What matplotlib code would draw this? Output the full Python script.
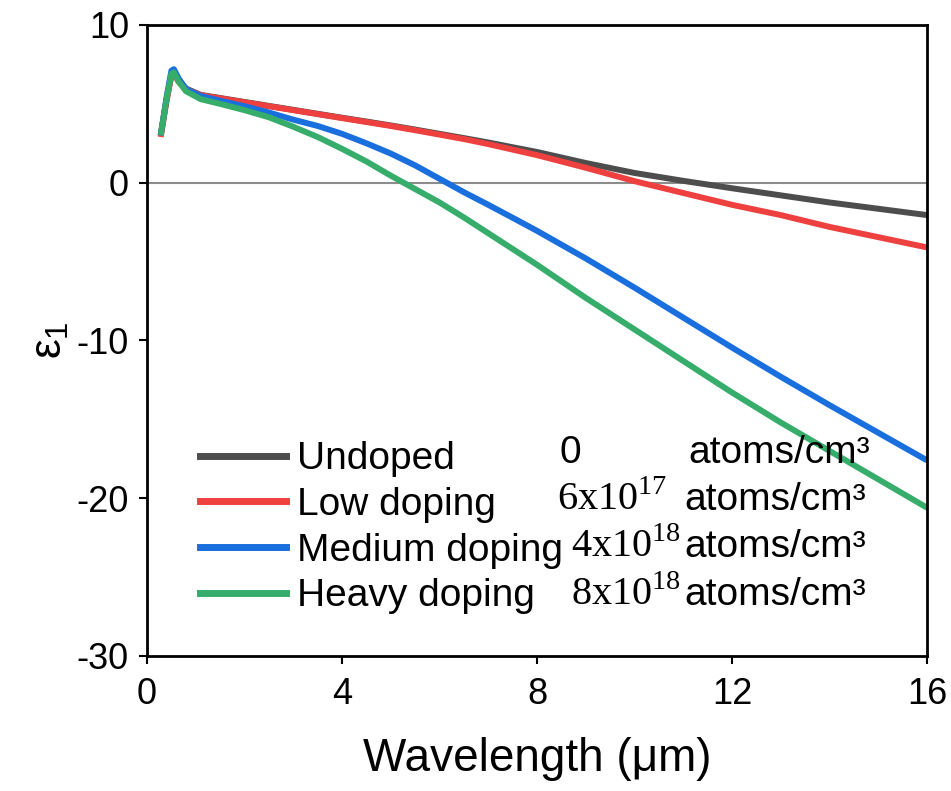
import matplotlib
matplotlib.use("Agg")
import matplotlib.pyplot as plt
from matplotlib.lines import Line2D

plt.rcParams['font.family'] = ['Liberation Sans', 'DejaVu Sans']
plt.rcParams['mathtext.fontset'] = 'custom'
plt.rcParams['mathtext.rm'] = 'Liberation Sans'
plt.rcParams['mathtext.it'] = 'Liberation Sans'
plt.rcParams['axes.unicode_minus'] = False

wavelength = [0.28, 0.4, 0.5, 0.55, 0.65, 0.8, 1.1, 1.5, 2, 2.5, 3, 3.5, 4, 4.5, 5, 5.5, 6, 6.5, 7, 7.5, 8,
              9, 10, 11, 12, 13, 14, 15, 16]
undoped = [3.0, 5.25, 6.85, 6.95, 6.45, 5.97, 5.57, 5.37, 5.12, 4.87, 4.62, 4.37, 4.12, 3.88, 3.63, 3.37, 3.1,
           2.83, 2.55, 2.25, 1.95, 1.25, 0.62, 0.12, -0.35, -0.8, -1.25, -1.65, -2.05]
low = [2.9, 5.2, 6.8, 6.9, 6.4, 5.95, 5.55, 5.35, 5.1, 4.85, 4.6, 4.35, 4.1, 3.85, 3.6, 3.33, 3.05,
       2.77, 2.45, 2.1, 1.75, 0.95, 0.1, -0.65, -1.4, -2.05, -2.8, -3.45, -4.1]
medium = [3.0, 5.4, 7.1, 7.2, 6.6, 5.95, 5.5, 5.2, 4.85, 4.45, 4.0, 3.6, 3.1, 2.5, 1.85, 1.1, 0.25,
          -0.6, -1.4, -2.22, -3.05, -4.8, -6.65, -8.55, -10.45, -12.3, -14.1, -15.85, -17.6]
heavy = [3.0, 5.3, 6.9, 7.0, 6.4, 5.8, 5.3, 5.0, 4.6, 4.15, 3.55, 2.9, 2.15, 1.35, 0.45, -0.4, -1.25,
         -2.2, -3.2, -4.2, -5.2, -7.3, -9.3, -11.3, -13.3, -15.2, -17.0, -18.8, -20.6]

labels = ['Undoped', 'Low doping', 'Medium doping', 'Heavy doping']
conc_num = ['0', r'6x10$^{\mathregular{17}}$', r'4x10$^{\mathregular{18}}$', r'8x10$^{\mathregular{18}}$']
colors = ['#4d4d4d', '#ef4040', '#1a6fdf', '#37ad6b']
series = [undoped, low, medium, heavy]

xticks = [0, 4, 8, 12, 16]
yticks = [10, 0, -10, -20, -30]

fig = plt.figure(figsize=(9.51, 7.91), dpi=100)
ax = fig.add_axes([0.1546, 0.1707, 0.8202, 0.7977])

ax.axhline(0, color='#8c8c8c', lw=1.5, zorder=1)
for y, c, lab in zip(series, colors, labels):
    ax.plot(wavelength, y, color=c, lw=4.3, label=lab, solid_capstyle='butt',
            solid_joinstyle='round', zorder=2)

ax.set_xlim(0, 16)
ax.set_ylim(-30, 10)
ax.set_xticks(xticks)
ax.set_yticks(yticks)
ax.tick_params(axis='both', direction='out', length=6, width=1.5, labelsize=26)
ax.tick_params(axis='x', pad=9)
ax.tick_params(axis='y', pad=7)
for s in ax.spines.values():
    s.set_linewidth(2)

ax.set_xlabel('Wavelength (\u03bcm)', fontsize=33, labelpad=18)
ax.set_ylabel(r'$\varepsilon_1$', fontsize=32, labelpad=4)

handles = [Line2D([], [], color=c, lw=5) for c in colors]
leg = ax.legend(handles, labels, loc='lower left', bbox_to_anchor=(0.068, 0.066),
                frameon=False, fontsize=28, handlelength=2.2, handletextpad=0.28,
                labelspacing=0.25, borderpad=0, borderaxespad=0)

rows_y = [0.322, 0.247, 0.172, 0.097]
num_x = [0.529, 0.525, 0.544, 0.544]
atoms_x = [0.694, 0.689, 0.689, 0.689]
for i, (n, yy) in enumerate(zip(conc_num, rows_y)):
    fam = 'Liberation Sans' if i == 0 else 'Liberation Serif'
    fs = 28 if i == 0 else 29
    ax.text(num_x[i], yy, n, transform=ax.transAxes, fontsize=fs, va='center', ha='left',
            family=fam)
    ax.text(atoms_x[i], yy, 'atoms/cm\u00b3', transform=ax.transAxes, fontsize=28,
            va='center', ha='left')

fig.savefig('out.png', dpi=100)
